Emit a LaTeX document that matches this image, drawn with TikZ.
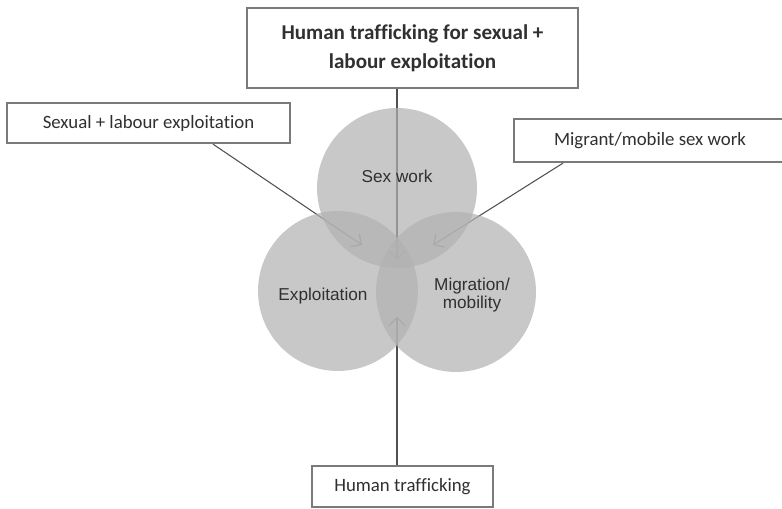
\documentclass[tikz,border=0pt]{standalone}
\usepackage{fontspec}
\setmainfont{Carlito}[Ligatures=NoCommon]
\newfontfamily\circfont{Liberation Sans}
\usetikzlibrary{arrows.meta}
\definecolor{boxline}{HTML}{7A7A7A}
\definecolor{inktext}{HTML}{303030}
\definecolor{arrline}{HTML}{505050}
\definecolor{circfill}{HTML}{B1B1B1}
\tikzset{
  labelbox/.style={draw=boxline, line width=1.3pt, fill=white, text=inktext,
    font=\fontsize{10.7}{13}\selectfont, inner sep=0pt, align=center},
  setcirc/.style={circle, fill=circfill, fill opacity=0.7, minimum size=3.2cm, inner sep=0pt},
  circlabel/.style={text=inktext, font=\circfont\fontsize{9.8}{10.5}\selectfont, align=center},
  arr/.style={draw=arrline, line width=0.6pt, -{Straight Barb[length=4.5pt,width=9pt]}}
}
\begin{document}
\begin{tikzpicture}[x=0.02cm, y=-0.02cm]  % ------ Sex work, exploitation, migration --------------
    \useasboundingbox (0,0) rectangle (782,509);

    \coordinate (tipT) at (397,260);
    \coordinate (tipL) at (362,245);
    \coordinate (tipR) at (433,245);
    \coordinate (tipB) at (397,317);

    \node[labelbox, minimum width=6.62cm, minimum height=1.6cm,
          font=\bfseries\fontsize{12}{16.5}\selectfont] (tbox) at (412.5,48)
          {Human trafficking for sexual +\\labour exploitation};
    \node[labelbox, minimum width=5.66cm, minimum height=0.8cm] (lbox) at (148.5,123) {Sexual + labour exploitation};
    \node[labelbox, minimum width=5.44cm, minimum height=0.86cm] (rbox) at (650,140.5) {Migrant/mobile sex work};
    \node[labelbox, minimum width=3.62cm, minimum height=0.82cm] (bbox) at (402.5,486.5) {Human trafficking};

    \draw[arr] (tbox.south -| tipT) -- (tipT);
    \draw[arr] (lbox.south -| 213,0) -- (tipL);
    \draw[arr] (rbox.south -| 563,0) -- (tipR);
    \draw[arr] (bbox.north -| tipB) -- (tipB);

    \node[setcirc] (sex)  at (397,188) {};
    \node[setcirc] (expl) at (338,291) {};
    \node[setcirc] (migr) at (456,292) {};

    \node[circlabel] (sexl)  at (397,176) {Sex work};
    \node[circlabel] (expll) at (323,296) {Exploitation};
    \node[circlabel] (migrl) at (472,295) {Migration/\\mobility};
\end{tikzpicture}
\end{document}
